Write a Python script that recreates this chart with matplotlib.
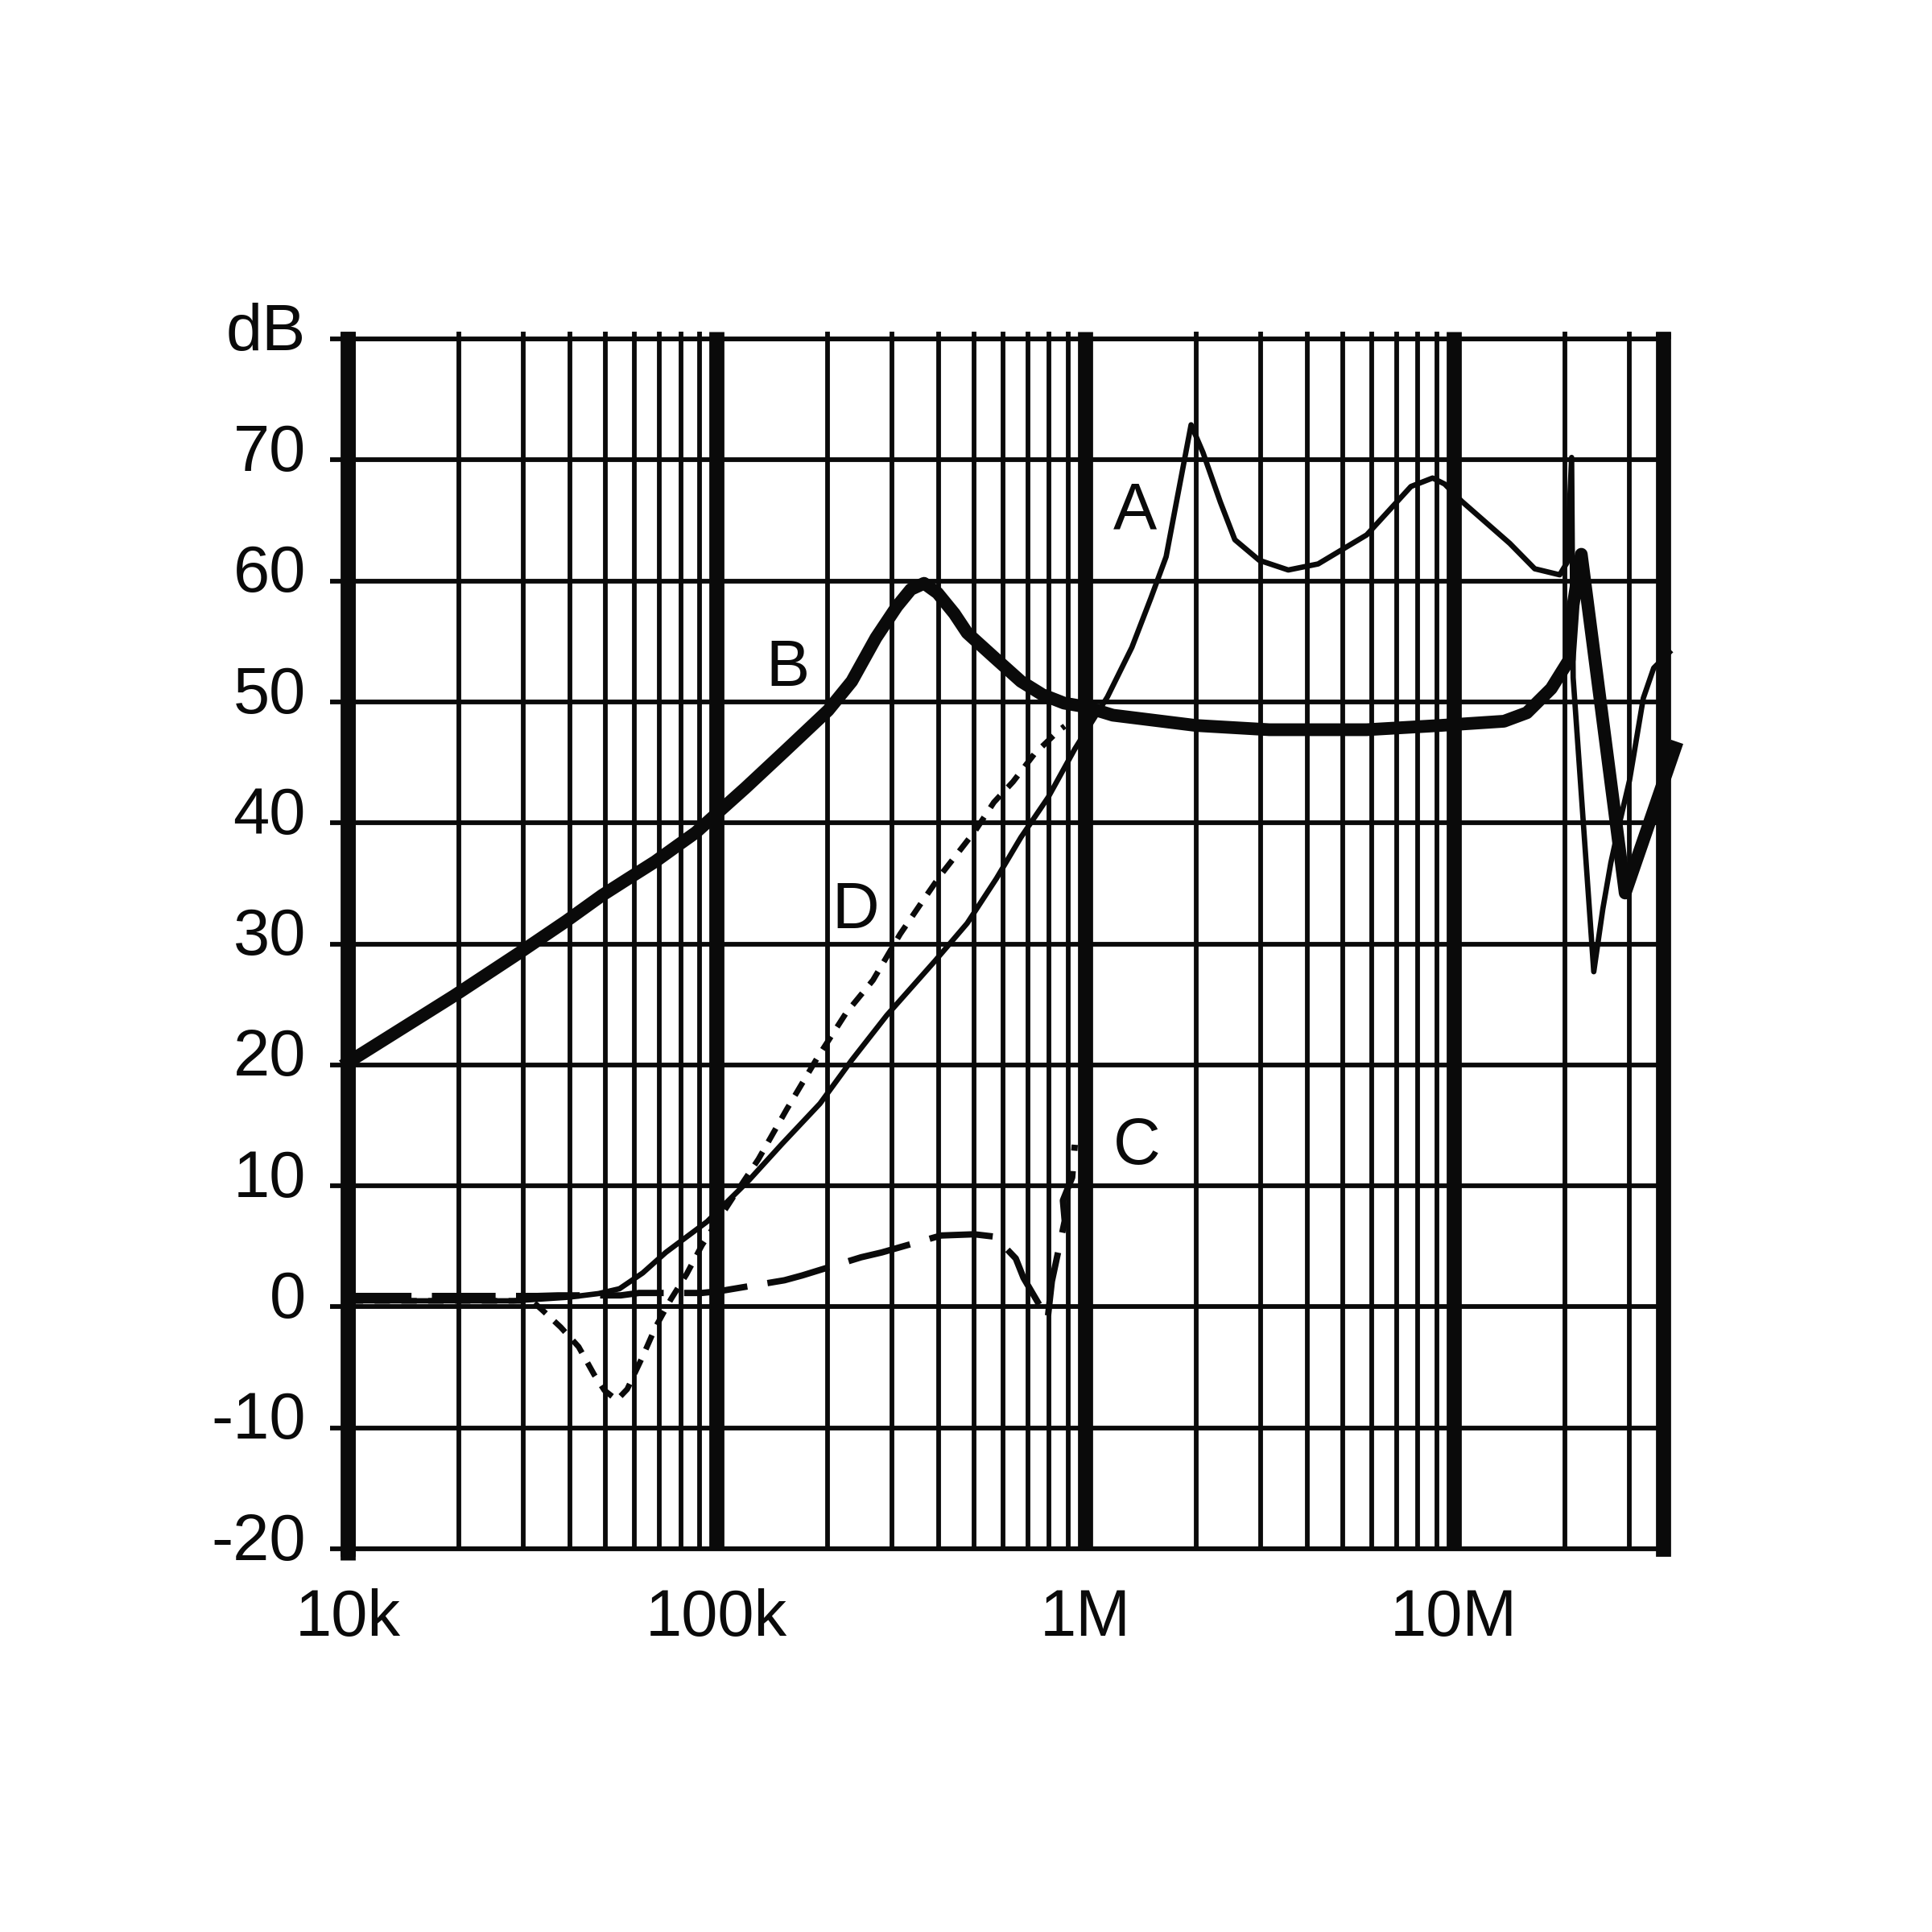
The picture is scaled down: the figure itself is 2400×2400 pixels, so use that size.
import matplotlib.pyplot as plt
from matplotlib.ticker import FixedLocator, FixedFormatter, NullFormatter
from matplotlib.transforms import ScaledTranslation

plt.rcParams['font.family'] = ['Liberation Sans', 'DejaVu Sans']

# curve A: thin solid
freq_a = [1.0e4, 2.82e4, 3.98e4, 4.79e4, 5.46e4, 6.31e4, 7.29e4, 9.44e4,
          1.22e5, 1.51e5, 1.91e5, 2.33e5, 2.90e5, 3.92e5, 4.79e5, 5.75e5,
          6.70e5, 7.94e5, 9.38e5, 1.15e6, 1.34e6, 1.51e6, 1.66e6, 1.77e6,
          1.94e6, 2.09e6, 2.33e6, 2.55e6, 2.97e6, 3.56e6, 4.29e6, 5.81e6,
          7.66e6, 8.77e6, 9.46e6, 1.05e7, 1.42e7, 1.66e7, 1.94e7, 2.03e7,
          2.09e7, 2.11e7, 2.40e7, 2.54e7, 2.67e7, 2.82e7, 3.00e7, 3.27e7,
          3.49e7, 3.85e7]
db_a = [0.5, 0.5, 0.8, 1.1, 1.5, 2.8, 4.5, 7.05,
        10.4, 13.5, 16.8, 20.4, 24.1, 28.6, 31.7, 35.4,
        38.8, 42.1, 46.1, 50.4, 54.5, 58.6, 62.0, 66.5,
        72.9, 70.6, 66.5, 63.4, 61.7, 60.9, 61.4, 63.8,
        67.8, 68.5, 68.0, 66.6, 63.1, 61.0, 60.5, 61.5,
        70.2, 52.0, 27.7, 32.9, 36.7, 40.0, 43.5, 50.3,
        52.8, 54.1]

# curve B: thick solid
freq_b = [1.0e4, 1.94e4, 2.90e4, 3.92e4, 4.89e4, 5.77e4, 6.82e4, 7.82e4,
          8.79e4, 9.80e4, 1.20e5, 1.53e5, 2.01e5, 2.33e5, 2.71e5, 3.09e5,
          3.37e5, 3.66e5, 3.98e5, 4.42e5, 4.79e5, 5.66e5, 6.70e5, 7.66e5,
          8.77e5, 1.0e6, 1.19e6, 2.0e6, 3.16e6, 5.81e6, 9.18e6, 1.37e7,
          1.58e7, 1.84e7, 2.06e7, 2.11e7, 2.22e7, 2.92e7, 3.99e7]
db_b = [20.2, 25.7, 29.2, 31.9, 34.0, 35.4, 36.8, 38.1,
        39.2, 40.5, 42.9, 45.9, 49.3, 51.7, 55.3, 57.9,
        59.3, 59.8, 59.0, 57.3, 55.7, 53.7, 51.7, 50.6,
        49.9, 49.6, 48.9, 48.05, 47.7, 47.7, 48.05, 48.4,
        49.1, 51.1, 53.5, 58.0, 62.2, 34.2, 46.2]

# curve C: long dashes
freq_c = [1.0e4, 3.27e4, 3.72e4, 5.50e4, 6.17e4, 9.12e4, 1.02e5, 1.53e5,
          1.71e5, 2.47e5, 2.81e5, 4.07e5, 5.01e5, 5.70e5, 6.49e5, 6.81e5,
          7.92e5, 8.13e5, 8.81e5, 8.71e5, 9.23e5, 9.38e5]
db_c = [0.9, 0.9, 0.95, 0.95, 1.15, 1.15, 1.3, 2.2,
        2.6, 4.1, 4.5, 5.9, 6.0, 5.8, 4.0, 2.4,
        -1.0, 2.1, 7.1, 8.8, 10.7, 13.4]

# curve D: short dashes
freq_d = [1.0e4, 3.16e4, 3.37e4, 3.78e4, 4.23e4, 4.66e4, 4.97e4, 5.37e4,
          5.73e4, 6.31e4, 6.84e4, 7.53e4, 8.30e4, 9.14e4, 1.14e5, 1.30e5,
          1.55e5, 1.88e5, 2.25e5, 2.66e5, 3.15e5, 3.60e5, 4.06e5, 4.49e5,
          5.05e5, 5.66e5, 6.38e5, 7.29e5, 8.47e5, 8.81e5]
db_d = [0.5, 0.5, -0.26, -1.67, -3.3, -5.6, -6.9, -7.7,
        -6.8, -4.1, -1.67, 0.64, 2.7, 5.1, 9.6, 12.2,
        16.3, 20.6, 24.3, 27.0, 30.8, 33.4, 35.7, 37.4,
        39.4, 41.7, 43.4, 45.7, 47.6, 48.0]

# curve letters (frequency, dB baseline)
curve_names = ['A', 'B', 'C', 'D']
name_freq = [1.365e6, 1.56e5, 1.38e6, 2.39e5]
name_db = [64.3, 51.3, 11.8, 31.3]

x_major = [1e4, 1e5, 1e6, 1e7]
x_labels = ['10k', '100k', '1M', '10M']
y_ticks = [-20, -10, 0, 10, 20, 30, 40, 50, 60, 70, 80]
y_labels = ['-20', '-10', '0', '10', '20', '30', '40', '50', '60', '70', 'dB']

x_min, x_max = 1e4, 3.7e7
ink = '#0a0a0a'
fs = 19.5
thick = 4.5
thin = 1.4

fig = plt.figure(figsize=(8, 8), dpi=300)
ax = fig.add_axes([0.18, 0.1983, 0.6808, 0.6263])
ax.set_xscale('log')
ax.set_xlim(x_min, x_max)
ax.set_ylim(-20, 80)

ax.plot(freq_b, db_b, color=ink, lw=3.8, clip_on=False, zorder=4)
ax.plot(freq_a, db_a, color=ink, lw=1.6, clip_on=False, zorder=5)
ax.plot(freq_c, db_c, color=ink, lw=1.9, dashes=(10.0, 3.2), clip_on=False, zorder=5)
ax.plot(freq_d, db_d, color=ink, lw=1.7, dashes=(2.7, 2.0), clip_on=False, zorder=5)

for name, f, d in zip(curve_names, name_freq, name_db):
    ax.text(f, d, name, ha='center', va='baseline', fontsize=fs, color=ink, zorder=6)

minor = [m * d for d in [1e4, 1e5, 1e6, 1e7] for m in range(2, 10) if m * d < x_max]
ax.xaxis.set_major_locator(FixedLocator(x_major))
ax.xaxis.set_major_formatter(FixedFormatter(x_labels))
ax.xaxis.set_minor_locator(FixedLocator(minor))
ax.xaxis.set_minor_formatter(NullFormatter())
ax.yaxis.set_major_locator(FixedLocator(y_ticks))
ax.yaxis.set_major_formatter(FixedFormatter(y_labels))

ax.grid(True, which='major', axis='x', color=ink, lw=thick)
ax.grid(True, which='minor', axis='x', color=ink, lw=thin)
ax.grid(True, which='major', axis='y', color=ink, lw=thin)

ax.tick_params(axis='x', which='major', bottom=False, top=True, direction='out',
               length=2.2, width=thick, color=ink, labelsize=fs, pad=9.6,
               labelcolor=ink)
ax.tick_params(axis='x', which='minor', bottom=False, top=True, direction='out',
               length=2.2, width=thin, color=ink)
ax.tick_params(axis='y', which='major', left=True, right=False, direction='out',
               length=5.3, width=thin, color=ink, labelsize=fs, pad=7.2,
               labelcolor=ink)

for side in ['left', 'right']:
    ax.spines[side].set_linewidth(thick)
    ax.spines[side].set_color(ink)
for side in ['top', 'bottom']:
    ax.spines[side].set_linewidth(thin)
    ax.spines[side].set_color(ink)

# left edge runs a little below the bottom line, right edge a little above the top
ax.plot([x_min, x_min], [-20, -20.9], color=ink, lw=thick, clip_on=False,
        solid_capstyle='butt')
ax.plot([x_max, x_max], [80, 80.55], color=ink, lw=thick, clip_on=False,
        solid_capstyle='butt')

# y labels sit slightly above their grid lines
shift = ScaledTranslation(0, 3.8 / 72, fig.dpi_scale_trans)
for lbl in ax.get_yticklabels():
    lbl.set_transform(lbl.get_transform() + shift)

fig.savefig('out.png', dpi=300, facecolor='white')
